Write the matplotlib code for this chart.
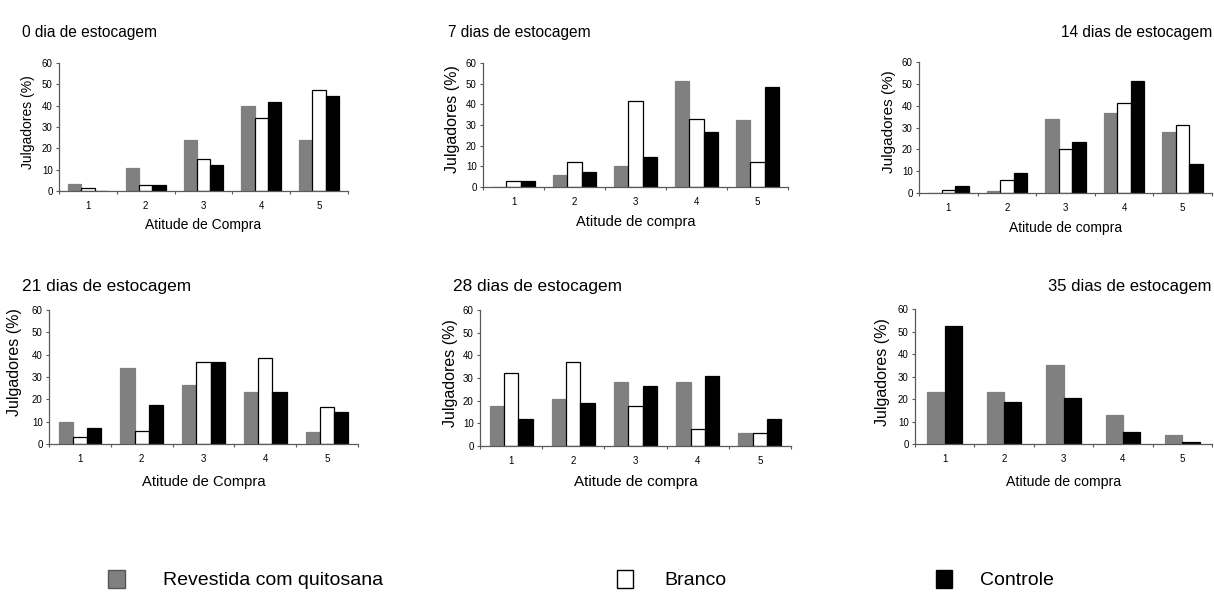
import numpy as np
import matplotlib.pyplot as plt
from matplotlib.patches import Rectangle

plt.rcParams['font.family'] = ['Liberation Sans', 'DejaVu Sans']

W, H = 1214, 596

notas = [1, 2, 3, 4, 5]
series = ["Revestida com quitosana", "Branco", "Controle"]
titulos = ["0 dia de estocagem", "7 dias de estocagem", "14 dias de estocagem",
           "21 dias de estocagem", "28 dias de estocagem", "35 dias de estocagem"]
rotulos_x = ["Atitude de Compra", "Atitude de compra", "Atitude de compra",
             "Atitude de Compra", "Atitude de compra", "Atitude de compra"]

# % de julgadores por nota, um vetor por tempo de estocagem
quitosana = [
    [3.1, 10.7, 23.9, 39.9, 23.9],
    [0.0, 6.0, 10.3, 51.5, 32.6],
    [0.0, 1.1, 33.9, 36.7, 27.9],
    [9.8, 34.1, 26.5, 23.4, 5.5],
    [17.5, 20.6, 28.2, 28.2, 5.6],
    [23.3, 23.3, 35.3, 13.0, 4.1],
]
branco = [
    [1.6, 3.0, 14.8, 34.1, 47.4],
    [2.9, 11.9, 41.5, 32.7, 11.9],
    [1.5, 5.8, 20.1, 41.1, 31.0],
    [3.1, 5.8, 36.8, 38.6, 16.4],
    [32.4, 36.9, 17.5, 7.4, 5.9],
    None,
]
controle = [
    [0.0, 3.0, 12.1, 41.8, 44.6],
    [2.9, 7.4, 14.7, 26.8, 48.5],
    [3.1, 9.1, 23.3, 51.4, 13.2],
    [7.3, 17.6, 36.8, 23.4, 14.4],
    [11.8, 18.9, 26.4, 30.8, 11.8],
    [52.6, 18.8, 20.6, 5.5, 1.0],
]

# caixas dos graficos em pixels: esquerda, direita, y do zero, y do 60
caixas = [(59, 348, 191, 63), (483, 788, 187, 63), (919, 1212, 193, 62),
          (49, 358, 444, 310), (480, 791, 446, 310), (915, 1212, 444, 309)]
# titulos: x, linha de base, alinhamento, tamanho
pos_titulo = [(22, 37, 'left', 11.2), (448, 37, 'left', 11.2), (1212, 37, 'right', 11.2),
              (22, 291, 'left', 12.4), (453, 291, 'left', 12.4), (1212, 291, 'right', 12)]
# centro do rotulo y (x, y) e do rotulo x (y)
pos_ylabel = [(28, 122), (453, 119), (889, 122), (15, 362), (450, 373), (883, 372)]
pos_xlabel = [225, 222, 228, 482, 482, 482]
fs_ylabel = [10, 11.5, 11, 11.5, 11.5, 11.5]
fs_xlabel = [10, 10.5, 10, 10.6, 11, 10.2]

cor_eixo = '#5a5a5a'
cores = ['#808080', 'white', 'black']
bordas = ['#808080', 'black', 'black']

fig = plt.figure(figsize=(W / 100, H / 100), dpi=100)

for i in range(6):
    l, r, y0, y60 = caixas[i]
    ax = fig.add_axes([l / W, 1 - y0 / H, (r - l) / W, (y0 - y60) / H])
    dados = [quitosana[i], branco[i], controle[i]]
    presentes = [k for k in range(3) if dados[k] is not None]
    n = len(presentes)
    w = 0.23 if n == 3 else 0.29
    x = np.array(notas)
    for j, k in enumerate(presentes):
        off = (j - (n - 1) / 2) * w
        ax.bar(x + off, dados[k], width=w, color=cores[k], edgecolor=bordas[k],
               linewidth=0.9, label=series[k])

    ax.set_xlim(0.5, 5.5)
    ax.set_ylim(0, 60)
    ax.set_yticks(range(0, 61, 10))
    ax.set_xticks(np.arange(0.5, 6, 1))
    ax.set_xticklabels([])
    ax.set_xticks(notas, minor=True)
    ax.set_xticklabels([str(v) for v in notas], minor=True)
    ax.tick_params(which='major', direction='out', length=2.5, width=0.8,
                   color=cor_eixo, labelsize=7, pad=2)
    ax.tick_params(axis='x', which='minor', length=0, labelsize=7, pad=7)
    for s in ['top', 'right']:
        ax.spines[s].set_visible(False)
    for s in ['left', 'bottom']:
        ax.spines[s].set_color(cor_eixo)
        ax.spines[s].set_linewidth(0.9)

    ax.set_ylabel("Julgadores (%)", fontsize=fs_ylabel[i], va='center')
    ax.yaxis.set_label_coords(pos_ylabel[i][0] / W, 1 - pos_ylabel[i][1] / H,
                              transform=fig.transFigure)
    ax.set_xlabel(rotulos_x[i], fontsize=fs_xlabel[i], va='center')
    ax.xaxis.set_label_coords((l + r) / 2 / W, 1 - pos_xlabel[i] / H,
                              transform=fig.transFigure)

    tx, ty, ha, fs = pos_titulo[i]
    fig.text(tx / W, 1 - ty / H, titulos[i], fontsize=fs, ha=ha, va='baseline')

# legenda: quadrado (x, largura) e inicio do texto
leg_quadrado = [(108, 17), (617, 16), (936, 16)]
leg_texto = [163, 664, 980]
for k in range(3):
    qx, qw = leg_quadrado[k]
    borda = '#555555' if k == 0 else 'black'
    fig.add_artist(Rectangle((qx / W, 1 - 588 / H), qw / W, 18 / H,
                             transform=fig.transFigure, facecolor=cores[k],
                             edgecolor=borda, linewidth=1.0))
    fig.text(leg_texto[k] / W, 1 - 585 / H, series[k], fontsize=14,
             ha='left', va='baseline')

fig.savefig("out.png", dpi=100)
